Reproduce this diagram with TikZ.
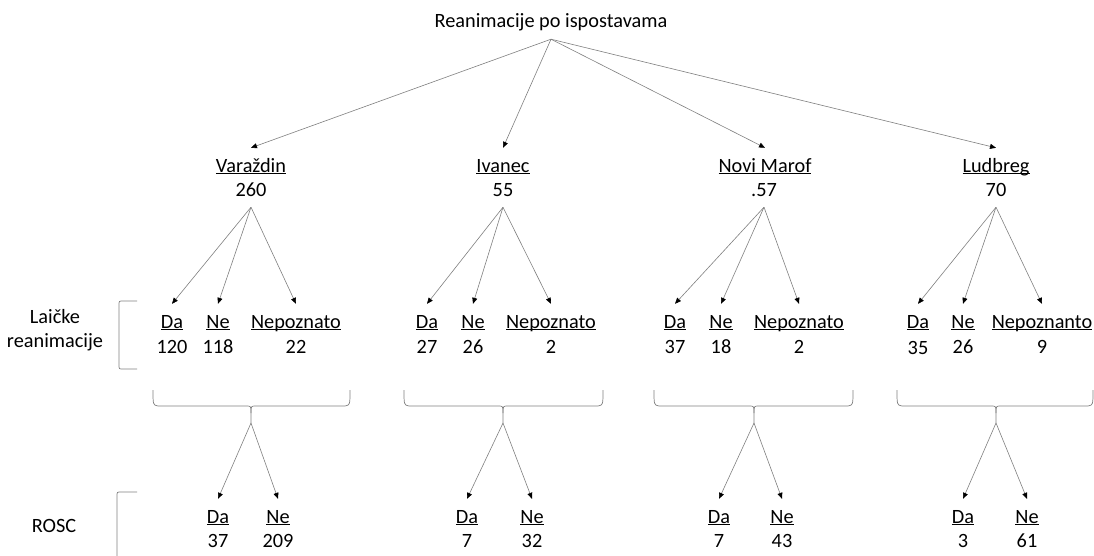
\documentclass[tikz,border=0pt]{standalone}
\usepackage{fontspec}
\setmainfont{Carlito}
\usetikzlibrary{arrows.meta}
\newcommand\ulin[1]{\setbox0=\hbox{#1}\rlap{\rule[-2pt]{\wd0}{0.9pt}}\box0}
\newcommand\hbrace[4]{%
  \draw[brc] (#1,390) .. controls (#1,405) .. (#1+5,406) -- (#2-5,406) .. controls (#2,406) .. (#2,413) -- (#2,423);
  \draw[brc] (#3,390) .. controls (#3,405) .. (#3-5,406) -- (#2+5,406) .. controls (#2,406) .. (#2,413);
  \coordinate (#4) at (#2,423);}
\begin{document}
\begin{tikzpicture}[x=1pt,y=-1pt,
  txt/.style={font=\fontsize{20.3}{24}\selectfont, text=black},
  lbl/.style={txt, anchor=base, text height=14pt, text depth=4pt, inner xsep=1pt, inner ysep=10pt},
  num/.style={txt, anchor=base, text height=14pt, text depth=4pt, inner xsep=1pt, inner ysep=7pt},
  con/.style={draw=black!50, line width=0.6pt, -{Triangle[length=6pt,width=5pt,fill=black,color=black]}},
  brc/.style={draw=black!50, line width=0.7pt}]
\useasboundingbox (0,0) rectangle (1094,555);
\fill[white] (0,0) rectangle (1094,555);

% top
\node[txt, anchor=base, text depth=5pt, inner ysep=7pt] (top) at (551,27) {Reanimacije po ispostavama};

% districts
\node[lbl] (v) at (251,172) {\ulin{Varaždin}};
\node[num] (vn) at (251,196) {260};
\node[lbl] (i) at (503,172) {\ulin{Ivanec}};
\node[num] (in) at (503,196) {55};
\node[lbl] (n) at (765,172) {\ulin{Novi Marof}};
\node[num] (nn) at (764,196) {.57};
\node[lbl] (l) at (996,172) {\ulin{Ludbreg}};
\node[num] (ln) at (996,196) {70};

\foreach \d in {v,i,n,l} \draw[con] (top.south) -- (\d.north);

% left labels
\node[txt, anchor=north, align=center, inner sep=0pt] (lay) at (55,309) {Laičke\\reanimacije};
\node[txt, anchor=base, inner sep=0pt] (rosc) at (54,532) {ROSC};
\draw[brc] (137,301) -- (123,301) .. controls (119,301) .. (119,305) -- (119,365) .. controls (119,369) .. (123,369) -- (137,369);
\draw[brc] (137,492) -- (121,492) .. controls (117,492) .. (117,496) -- (117,556);

% level 3: Varazdin
\node[lbl] (vda) at (172,328) {\ulin{Da}};
\node[num] at (172,353) {120};
\node[lbl] (vne) at (218,328) {\ulin{Ne}};
\node[num] at (218,353) {118};
\node[lbl] (vnp) at (296,328) {\ulin{Nepoznato}};
\node[num] at (296,353) {22};
% Ivanec
\node[lbl] (ida) at (427,328) {\ulin{Da}};
\node[num] at (427,353) {27};
\node[lbl] (ine) at (473,328) {\ulin{Ne}};
\node[num] at (473,353) {26};
\node[lbl] (inp) at (551,328) {\ulin{Nepoznato}};
\node[num] at (551,353) {2};
% Novi Marof
\node[lbl] (nda) at (675,328) {\ulin{Da}};
\node[num] at (675,353) {37};
\node[lbl] (nne) at (721,328) {\ulin{Ne}};
\node[num] at (721,353) {18};
\node[lbl] (nnp) at (799,328) {\ulin{Nepoznato}};
\node[num] at (799,353) {2};
% Ludbreg
\node[lbl] (lda) at (918,328) {\ulin{Da}};
\node[num] at (918,354) {35};
\node[lbl] (lne) at (963,328) {\ulin{Ne}};
\node[num] at (963,353) {26};
\node[lbl] (lnp) at (1042,328) {\ulin{Nepoznanto}};
\node[num] at (1042,353) {9};

\foreach \d in {v,i,n,l} {
  \draw[con] (\d n.south) -- (\d da.north);
  \draw[con] (\d n.south) -- (\d ne.north);
  \draw[con] (\d n.south) -- (\d np.north);
}

% braces
\hbrace{153}{251}{350}{vb}
\hbrace{404}{503}{603}{ib}
\hbrace{654}{754}{853}{nb}
\hbrace{897}{996}{1093}{lb}

% level 4
\node[lbl] (vrd) at (218,523) {\ulin{Da}};
\node[num] at (218,547) {37};
\node[lbl] (vrn) at (278,523) {\ulin{Ne}};
\node[num] at (278,547) {209};
\node[lbl] (ird) at (467,523) {\ulin{Da}};
\node[num] at (467,547) {7};
\node[lbl] (irn) at (532,523) {\ulin{Ne}};
\node[num] at (532,547) {32};
\node[lbl] (nrd) at (719,523) {\ulin{Da}};
\node[num] at (719,547) {7};
\node[lbl] (nrn) at (782,523) {\ulin{Ne}};
\node[num] at (782,547) {43};
\node[lbl] (lrd) at (963,523) {\ulin{Da}};
\node[num] at (963,547) {3};
\node[lbl] (lrn) at (1027,523) {\ulin{Ne}};
\node[num] at (1027,547) {61};

\foreach \d in {v,i,n,l} {
  \draw[con] (\d b) -- (\d rd.north);
  \draw[con] (\d b) -- (\d rn.north);
}
\end{tikzpicture}
\end{document}
